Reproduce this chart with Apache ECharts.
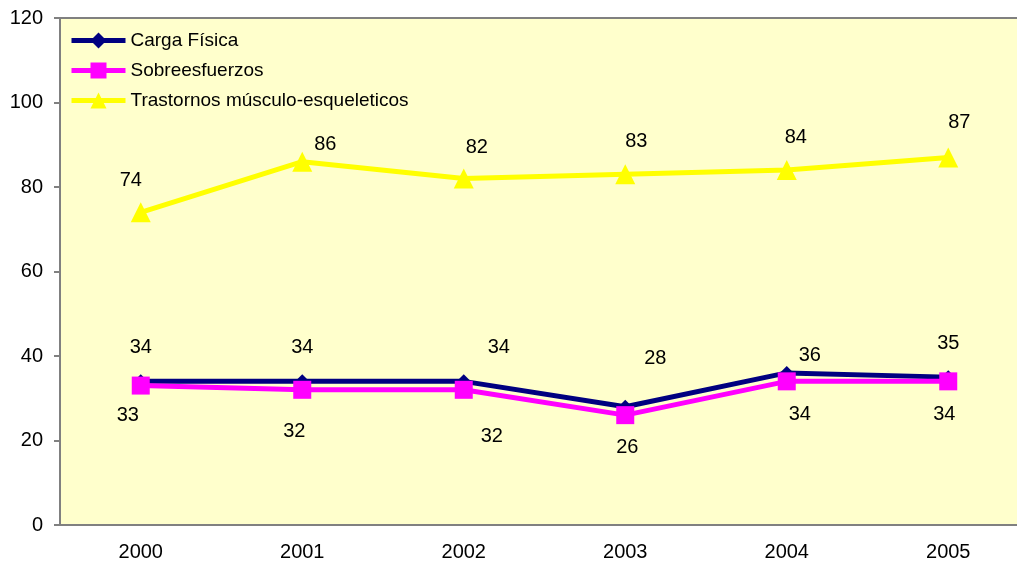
<!DOCTYPE html>
<html>
<head>
<meta charset="utf-8">
<script src="https://cdn.jsdelivr.net/npm/echarts@6/dist/echarts.min.js"></script>
<style>
  html, body { margin: 0; padding: 0; background: #fff; }
  #chart { width: 1017px; height: 564px; }
</style>
</head>
<body>
<div id="chart"></div>
<script>
const years = ['2000', '2001', '2002', '2003', '2004', '2005'];
const cargaFisica = [34, 34, 34, 28, 36, 35];
const sobreesfuerzos = [33, 32, 32, 26, 34, 34];
const trastornos = [74, 86, 82, 83, 84, 87];
const yTicks = [0, 20, 40, 60, 80, 100, 120];

// label offsets per point (px), as in the original layout
const cargaOffsets = [[0, -34], [0, -34], [35, -34], [30, -48], [23, -17], [0, -34]];
const sobreOffsets = [[-13, 30], [-8, 42], [28, 47], [2, 32], [13, 33], [-4, 33]];
const trastOffsets = [[-10, -32], [23, -17], [13, -31], [11, -33], [9, -33], [11, -35]];

function withLabels(values, offsets) {
    return values.map((v, i) => ({
        value: v,
        label: { show: true, position: 'inside', offset: offsets[i] }
    }));
}

const labelStyle = { color: '#000', fontSize: 20, fontFamily: 'Liberation Sans, Arial' };

const option = {
    animation: false,
    textStyle: { fontFamily: 'Liberation Sans, Arial' },
    grid: {
        left: 60, width: 969, top: 18, bottom: 39,
        outerBoundsMode: 'none',
        containLabel: false,
        show: true,
        backgroundColor: '#FFFFCC',
        borderColor: '#808080',
        borderWidth: 2
    },
    legend: {
        orient: 'vertical',
        left: 64, top: 26,
        itemWidth: 54, itemHeight: 20,
        itemGap: 11,
        lineStyle: { width: 5 },
        textStyle: { fontSize: 19, color: '#000' },
        data: ['Carga Física', 'Sobreesfuerzos', 'Trastornos músculo-esqueleticos']
    },
    xAxis: {
        type: 'category',
        data: years,
        boundaryGap: true,
        axisLine: { lineStyle: { color: '#808080', width: 2 } },
        axisTick: { show: false },
        axisLabel: { color: '#000', fontSize: 20, margin: 17 }
    },
    yAxis: {
        type: 'value',
        min: yTicks[0], max: yTicks[yTicks.length - 1], interval: 20,
        axisLine: { show: true, lineStyle: { color: '#808080', width: 2 } },
        axisTick: { show: true, length: 6, lineStyle: { color: '#808080', width: 2 } },
        axisLabel: { color: '#000', fontSize: 20, margin: 17 },
        splitLine: { show: false }
    },
    series: [
        {
            name: 'Carga Física',
            type: 'line',
            data: withLabels(cargaFisica, cargaOffsets),
            symbol: 'diamond', symbolSize: 14,
            color: '#000080',
            lineStyle: { width: 5, color: '#000080' },
            itemStyle: { color: '#000080' },
            label: labelStyle,
            z: 3
        },
        {
            name: 'Sobreesfuerzos',
            type: 'line',
            data: withLabels(sobreesfuerzos, sobreOffsets),
            symbol: 'rect', symbolSize: 18,
            color: '#FF00FF',
            lineStyle: { width: 5, color: '#FF00FF' },
            itemStyle: { color: '#FF00FF' },
            label: labelStyle,
            z: 4
        },
        {
            name: 'Trastornos músculo-esqueleticos',
            type: 'line',
            data: withLabels(trastornos, trastOffsets),
            symbol: 'triangle', symbolSize: 20,
            color: '#FFFF00',
            lineStyle: { width: 5, color: '#FFFF00' },
            itemStyle: { color: '#FFFF00' },
            label: labelStyle,
            z: 2
        }
    ]
};

echarts.init(document.getElementById('chart')).setOption(option);
</script>
</body>
</html>
